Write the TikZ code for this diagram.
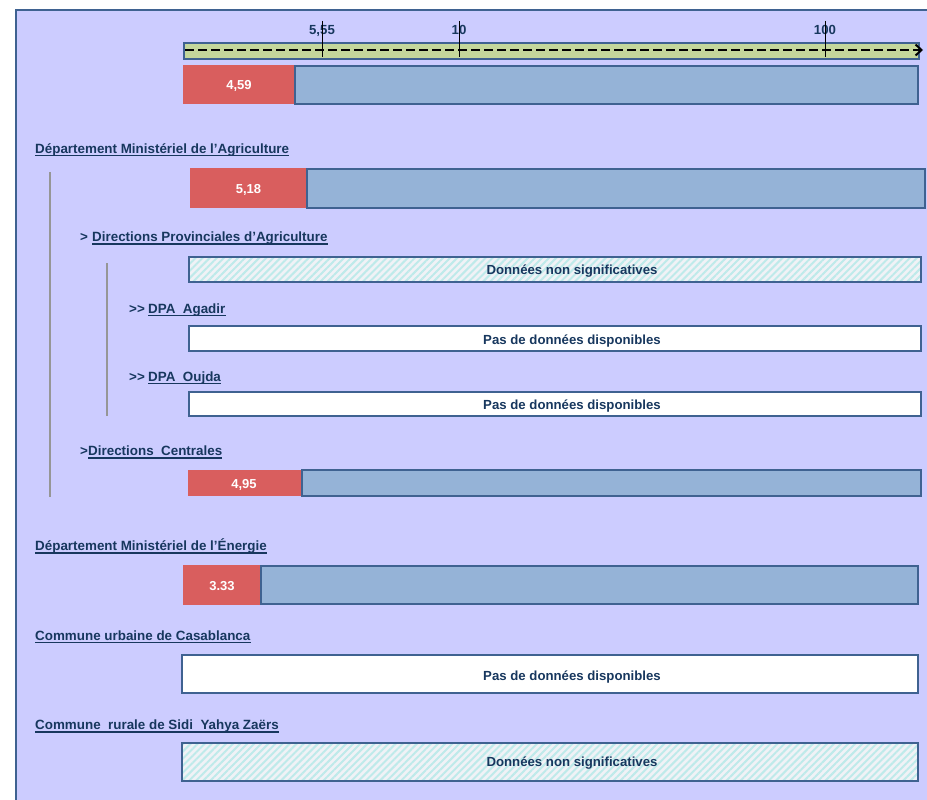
\documentclass[tikz,border=0pt]{standalone}
\usepackage{fontspec}
\setmainfont{Liberation Sans}
\usetikzlibrary{arrows.meta,patterns.meta}
\definecolor{bgc}{RGB}{204,204,255}
\definecolor{framec}{RGB}{63,98,145}
\definecolor{axgreen}{RGB}{196,215,155}
\definecolor{redc}{RGB}{217,94,94}
\definecolor{bluec}{RGB}{149,179,215}
\definecolor{txtblue}{RGB}{23,55,94}
\definecolor{grayc}{RGB}{150,150,150}
\definecolor{hatchc}{RGB}{190,234,234}
\definecolor{hatchbg}{RGB}{240,242,246}
\tikzset{
  lbl/.style={font=\bfseries\fontsize{13.4}{15}\selectfont, text=txtblue, inner sep=0pt, anchor=base west},
  ul/.style={draw=txtblue, line width=1.3pt},
  redbar/.style={fill=redc, draw=none, anchor=north west, inner sep=0pt, outer sep=0pt},
  redtxt/.style={text=white, font=\bfseries\fontsize{13}{15}\selectfont, inner sep=0pt, anchor=base},
  bluebar/.style={fill=bluec, draw=framec, line width=1.8pt, anchor=north west, inner sep=0pt, outer sep=0pt},
  whitebar/.style={fill=white, draw=framec, line width=1.8pt, anchor=north west, inner sep=0pt, outer sep=0pt},
  hatchbar/.style={draw=framec, line width=1.8pt, anchor=north west, inner sep=0pt, outer sep=0pt,
    preaction={fill=hatchbg}, preaction={pattern={Lines[angle=45,distance=5pt,line width=2pt]}, pattern color=hatchc}},
  bartxt/.style={font=\bfseries\fontsize{13.2}{15}\selectfont, text=txtblue, inner sep=0pt, anchor=base},
  tick/.style={draw=black, line width=1pt},
  vline/.style={draw=grayc, line width=1.5pt},
}
\begin{document}
\begin{tikzpicture}[x=1pt,y=-1pt]
\useasboundingbox (0,0) rectangle (927,800);
% background frame
\fill[bgc] (16,10) rectangle (930,803);
\draw[framec, line width=2pt] (16,803) -- (16,10) -- (930,10);

% axis
\node[fill=axgreen, draw=framec, line width=1.8pt, anchor=north west, minimum width=735pt, minimum height=16pt, inner sep=0pt] (axis) at (183,42) {};
\coordinate (axL) at (185,50);
\coordinate (axR) at (916,50);
\coordinate (axT) at (923,50);
\draw[line width=2pt, dash pattern=on 9pt off 4pt] (axL) -- (axR);
\draw[line width=2pt, -{Straight Barb[length=6pt,width=11pt,line width=2pt]}] (axR) -- (axT);
\coordinate (t1a) at (322,21); \coordinate (t1b) at (322,57);
\coordinate (t2a) at (459,21); \coordinate (t2b) at (459,57);
\coordinate (t3a) at (825,21); \coordinate (t3b) at (825,57);
\node[bartxt] (l1) at (322,35) {5,55};
\node[bartxt] (l2) at (459,35) {10};
\node[bartxt] (l3) at (825,35) {100};
\draw[tick] (t1a) -- (t1b);
\draw[tick] (t2a) -- (t2b);
\draw[tick] (t3a) -- (t3b);

% bar 1
\node[redbar, minimum width=112pt, minimum height=39pt] (r1) at (183,65) {};
\node[redtxt] (r1t) at (239,90) {4,59};
\node[bluebar, minimum width=623pt, minimum height=38pt] (b1) at (295,66) {};

% Agriculture
\node[lbl] (agri) at (35,153) {Département Ministériel de l’Agriculture};
\draw[ul] ([yshift=-2.5pt]agri.base west) -- ([yshift=-2.5pt]agri.base east);
\coordinate (v1a) at (50,172); \coordinate (v1b) at (50,497);
\draw[vline] (v1a) -- (v1b);
\node[redbar, minimum width=117pt, minimum height=40pt] (r2) at (190,168) {};
\node[redtxt] (r2t) at (248.5,193) {5,18};
\node[bluebar, minimum width=618pt, minimum height=39pt] (b2) at (307,169) {};

% DPA
\node[lbl] (gt1) at (80,241.5) {>};
\node[lbl] (dpa) at (92,241.5) {Directions Provinciales d’Agriculture};
\draw[ul] ([yshift=-2.5pt]dpa.base west) -- ([yshift=-2.5pt]dpa.base east);
\coordinate (v2a) at (107,263); \coordinate (v2b) at (107,416);
\draw[vline] (v2a) -- (v2b);
\node[hatchbar, minimum width=732pt, minimum height=25pt] (h1) at (189,257) {};
\node[bartxt] (h1t) at (572,274) {Données non significatives};

\node[lbl] (gt2) at (129,313) {>{}>};
\node[lbl] (aga) at (148,313) {DPA\ \ Agadir};
\draw[ul] ([yshift=-2.5pt]aga.base west) -- ([yshift=-2.5pt]aga.base east);
\node[whitebar, minimum width=732pt, minimum height=25pt] (w1) at (189,326) {};
\node[bartxt] (w1t) at (572,344.5) {Pas de données disponibles};

\node[lbl] (gt3) at (129,381) {>{}>};
\node[lbl] (ouj) at (148,381) {DPA\ \ Oujda};
\draw[ul] ([yshift=-2.5pt]ouj.base west) -- ([yshift=-2.5pt]ouj.base east);
\node[whitebar, minimum width=732pt, minimum height=24pt] (w2) at (189,392) {};
\node[bartxt] (w2t) at (572,409.5) {Pas de données disponibles};

\node[lbl] (gt4) at (80,455.5) {>};
\node[lbl] (dc) at (88,455.5) {Directions\ \ Centrales};
\draw[ul] ([yshift=-2.5pt]dc.base west) -- ([yshift=-2.5pt]dc.base east);
\node[redbar, minimum width=114pt, minimum height=26pt] (r3) at (188,470) {};
\node[redtxt] (r3t) at (244,488) {4,95};
\node[bluebar, minimum width=619pt, minimum height=26pt] (b3) at (302,470) {};

% Energie
\node[lbl] (ene) at (35,550.5) {Département Ministériel de l’Énergie};
\draw[ul] ([yshift=-2.5pt]ene.base west) -- ([yshift=-2.5pt]ene.base east);
\node[redbar, minimum width=78pt, minimum height=40pt] (r4) at (183,565) {};
\node[redtxt] (r4t) at (222,590) {3.33};
\node[bluebar, minimum width=657pt, minimum height=38pt] (b4) at (261,566) {};

% Casablanca
\node[lbl] (casa) at (35,640) {Commune urbaine de Casablanca};
\draw[ul] ([yshift=-2.5pt]casa.base west) -- ([yshift=-2.5pt]casa.base east);
\node[whitebar, minimum width=736pt, minimum height=38pt] (w3) at (182,655) {};
\node[bartxt] (w3t) at (572,680) {Pas de données disponibles};

% Sidi Yahya
\node[lbl] (sidi) at (35,729.5) {Commune\ \ rurale de Sidi\ \ Yahya Zaërs};
\draw[ul] ([yshift=-2.5pt]sidi.base west) -- ([yshift=-2.5pt]sidi.base east);
\node[hatchbar, minimum width=736pt, minimum height=38pt] (h2) at (182,743) {};
\node[bartxt] (h2t) at (572,766.5) {Données non significatives};
\end{tikzpicture}
\end{document}
